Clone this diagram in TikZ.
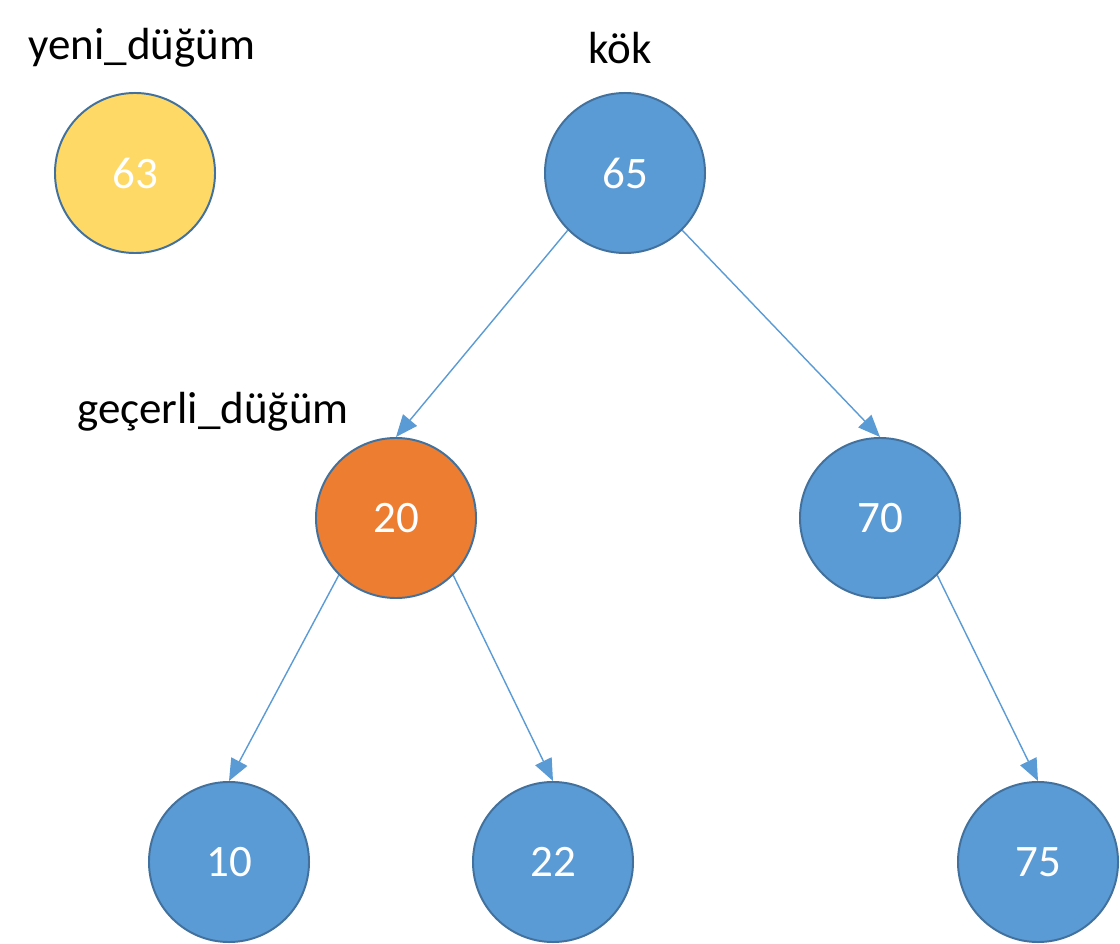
\documentclass[tikz,border=0pt]{standalone}
\usepackage{fontspec}
\setmainfont{Carlito}
\usetikzlibrary{arrows.meta}
\definecolor{nodeblue}{HTML}{5B9BD5}
\definecolor{nodeedge}{HTML}{41719C}
\definecolor{nodeorange}{HTML}{ED7D31}
\definecolor{nodeyellow}{HTML}{FFD966}
\tikzset{
  treenode/.style={circle, draw=nodeedge, line width=1.4pt, minimum size=4cm,
    inner sep=0pt, text=white, font=\fontsize{32}{38}\selectfont},
  tag/.style={font=\fontsize{32}{38}\selectfont, text=black},
  link/.style={draw=nodeblue, line width=1pt, -{Triangle[length=0.55cm,width=0.45cm]}}
}
\begin{document}
\begin{tikzpicture}[x=0.025cm,y=-0.025cm]
			\useasboundingbox (0,0) rectangle (1120,944);
			
			\node[treenode, fill=nodeyellow] (yeni) at (135,173) {63};
			\node[treenode, fill=nodeblue] (kok) at (625,173) {65};
			\node[treenode, fill=nodeorange] (gecerli) at (396,518) {20};
			\node[treenode, fill=nodeblue] (n70) at (880,518) {70};
			\node[treenode, fill=nodeblue] (n10) at (229,862) {10};
			\node[treenode, fill=nodeblue] (n22) at (553,862) {22};
			\node[treenode, fill=nodeblue] (n75) at (1038,862) {75};
			
			\node[tag] (yenilbl) at (142,48) {yeni\_düğüm};
			\node[tag] (koklbl) at (620,48) {kök};
			\node[tag] (gecerlilbl) at (213,412) {geçerli\_düğüm};
			
			\draw[link] (kok.225) -- (gecerli.north);
			\draw[link] (kok.-45) -- (n70.north);
			\draw[link] (gecerli.225) -- (n10.north);
			\draw[link] (gecerli.-45) -- (n22.north);
			\draw[link] (n70.-45) -- (n75.north);
\end{tikzpicture}
\end{document}
